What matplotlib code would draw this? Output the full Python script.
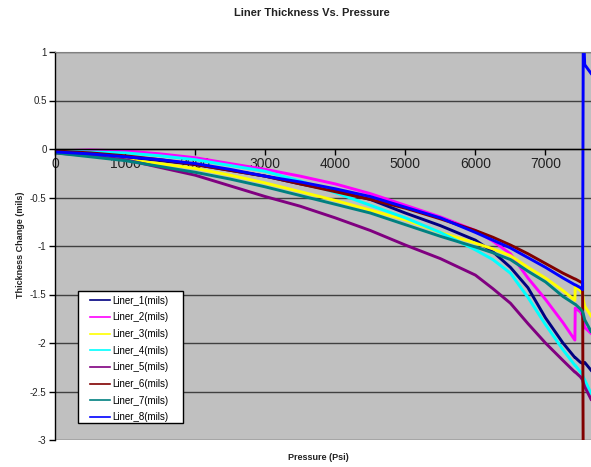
import matplotlib
matplotlib.use("Agg")
import matplotlib.pyplot as plt
from matplotlib.patches import Rectangle

plt.rcParams['font.family'] = ['Liberation Sans', 'DejaVu Sans']

pressure = [0, 500, 1000, 1500, 2000, 2500, 3000, 3500, 4000, 4500, 5000, 5500,
            6000, 6250, 6500, 6750, 7000, 7250, 7420, 7425, 7500, 7530, 7540, 7560, 7650]

liner_1 = [-0.03, -0.05, -0.08, -0.12, -0.16, -0.22, -0.28, -0.36, -0.43, -0.52, -0.66, -0.79,
           -0.94, -1.06, -1.22, -1.43, -1.74, -2.00, -2.15, -2.15, -2.20, -2.21, -2.21, -2.20, -2.28]
liner_2 = [-0.02, -0.01, -0.02, -0.05, -0.09, -0.15, -0.21, -0.28, -0.36, -0.46, -0.58, -0.70,
           -0.84, -0.95, -1.08, -1.33, -1.55, -1.79, -1.97, -1.64, -1.68, -1.72, -1.76, -1.84, -1.90]
liner_3 = [-0.03, -0.06, -0.11, -0.15, -0.20, -0.27, -0.35, -0.44, -0.53, -0.63, -0.73, -0.86,
           -0.97, -1.03, -1.10, -1.22, -1.33, -1.46, -1.56, -1.42, -1.46, -1.50, -1.55, -1.62, -1.72]
liner_4 = [-0.02, -0.03, -0.04, -0.07, -0.11, -0.17, -0.23, -0.33, -0.45, -0.58, -0.71, -0.86,
           -1.04, -1.14, -1.28, -1.53, -1.81, -2.07, -2.23, -2.23, -2.30, -2.33, -2.35, -2.38, -2.52]
liner_5 = [-0.04, -0.07, -0.11, -0.19, -0.27, -0.38, -0.49, -0.59, -0.71, -0.84, -0.99, -1.13,
           -1.30, -1.44, -1.59, -1.80, -2.00, -2.18, -2.30, -2.30, -2.35, -2.38, -2.41, -2.45, -2.58]
liner_6 = [-0.02, -0.04, -0.07, -0.11, -0.16, -0.22, -0.28, -0.36, -0.44, -0.52, -0.61, -0.72,
           -0.84, -0.91, -0.99, -1.08, -1.18, -1.28, -1.34, -1.34, -1.37, -1.38, -3.50, -3.50, -3.50]
liner_7 = [-0.04, -0.08, -0.12, -0.18, -0.24, -0.31, -0.39, -0.48, -0.57, -0.66, -0.78, -0.90,
           -1.01, -1.07, -1.14, -1.26, -1.37, -1.52, -1.60, -1.60, -1.65, -1.68, -1.70, -1.76, -1.88]
liner_8 = [-0.03, -0.05, -0.08, -0.11, -0.15, -0.21, -0.28, -0.34, -0.41, -0.49, -0.60, -0.71,
           -0.86, -0.94, -1.02, -1.12, -1.22, -1.33, -1.40, -1.40, -1.43, -1.45, 1.30, 0.87, 0.78]

series_names = ["Liner_1(mils)", "Liner_2(mils)", "Liner_3(mils)", "Liner_4(mils)",
                "Liner_5(mils)", "Liner_6(mils)", "Liner_7(mils)", "Liner_8(mils)"]
series_values = [liner_1, liner_2, liner_3, liner_4, liner_5, liner_6, liner_7, liner_8]
series_colors = ["#000080", "#FF00FF", "#FFFF00", "#00FFFF",
                 "#800080", "#800000", "#008080", "#0000FF"]

x_ticks = [0, 1000, 2000, 3000, 4000, 5000, 6000, 7000]
y_ticks = [1, 0.5, 0, -0.5, -1, -1.5, -2, -2.5, -3]
y_tick_labels = ["1", "0.5", "0", "-0.5", "-1", "-1.5", "-2", "-2.5", "-3"]

W, H = 591, 467
fig = plt.figure(figsize=(W / 100, H / 100), dpi=100)
ax = fig.add_axes([55 / W, 1 - 440 / H, 1 - 55 / W, (440 - 52) / H])
ax.set_facecolor("#C0C0C0")

for vals, name, col in zip(series_values, series_names, series_colors):
    ax.plot(pressure, vals, color=col, lw=2.1, label=name)

ax.set_xlim(0, 7650)
ax.set_ylim(-3, 1)
ax.set_yticks(y_ticks)
ax.set_yticklabels(y_tick_labels, fontsize=7)
ax.set_xticks(x_ticks)
ax.set_xticklabels([str(t) for t in x_ticks], fontsize=7)

ax.grid(axis='y', color="#404040", lw=1.0)
ax.grid(axis='x', visible=False)
ax.set_axisbelow(True)

ax.spines['bottom'].set_position(('data', 0))
ax.spines['bottom'].set_color('black')
ax.spines['bottom'].set_linewidth(1.0)
ax.spines['left'].set_color('black')
ax.spines['left'].set_linewidth(1.0)
ax.spines['top'].set_color('#808080')
ax.spines['right'].set_visible(False)

ax.tick_params(axis='both', direction='out', length=4, width=1, colors='black',
               labelcolor='#222222', pad=2)

fig.text(312 / W, 1 - 13 / H, "Liner Thickness Vs. Pressure", ha='center', va='center',
         fontsize=8, fontweight='bold', color='#222222')
fig.text(318 / W, 1 - 458 / H, "Pressure (Psi)", ha='center', va='center',
         fontsize=6.5, fontweight='bold', color='#222222')
fig.text(21 / W, 1 - 245 / H, "Thickness Change (mils)", ha='center', va='center',
         rotation=90, fontsize=6.5, fontweight='bold', color='#222222')

# legend box
box = Rectangle((78 / W, 1 - 423 / H), (183 - 78) / W, (423 - 291) / H,
                transform=fig.transFigure, facecolor='white', edgecolor='black',
                lw=1.0, zorder=4, clip_on=False)
ax.add_patch(box)
leg = ax.legend(loc='upper left', bbox_to_anchor=(90 / W, 1 - 295.5 / H),
                bbox_transform=fig.transFigure, fontsize=7, frameon=False,
                handlelength=2.05, handletextpad=0.2, labelspacing=0.69,
                borderpad=0, borderaxespad=0)
leg.set_zorder(5)
for line in leg.get_lines():
    line.set_linewidth(1.2)

fig.savefig("out.png", dpi=100)
